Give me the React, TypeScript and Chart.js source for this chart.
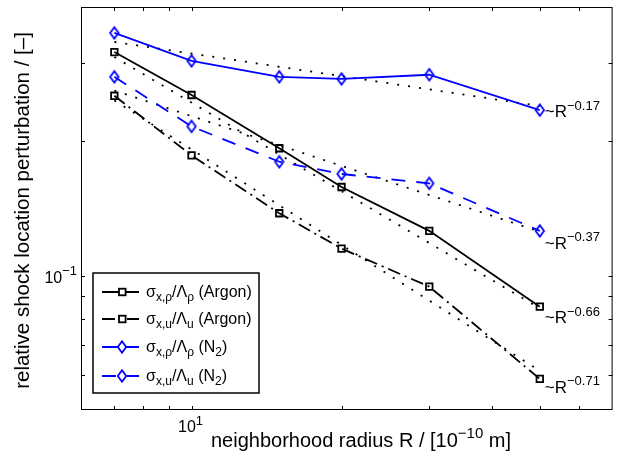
import React, { useEffect, useRef } from 'react';
import { Chart, registerables } from 'chart.js';

Chart.register(...registerables);

// neighborhood radius R, in 1e-10 m
const radius = [7, 10, 15, 20, 30, 50];

// relative shock location perturbation
const argonRho = [0.317, 0.254, 0.193, 0.158, 0.126, 0.0852];
const argonU = [0.253, 0.186, 0.138, 0.115, 0.0945, 0.0587];
const n2Rho = [0.35, 0.303, 0.279, 0.276, 0.282, 0.235];
const n2U = [0.279, 0.216, 0.18, 0.169, 0.161, 0.126];

const fitRadius = [7, 50];
const fitN2Rho = [0.334, 0.24];
const fitN2U = [0.26, 0.1255];
const fitArgonRho = [0.309, 0.0845];
const fitArgonU = [0.247, 0.0612];

const fitExponents = ['\u22120.17', '\u22120.37', '\u22120.66', '\u22120.71'];
const fitLabelAt = [0.2337, 0.1186, 0.0807, 0.0563];

const xTickValues = [7, 8, 9, 10, 20, 30, 40, 50, 60];
const yTickValues = [0.06, 0.07, 0.08, 0.09, 0.1, 0.2, 0.3];

type Run = [string, number]; // text, 0 normal / 1 superscript / -1 subscript

const legendLabels: Run[][] = [
  [['\u03c3', 0], ['x,\u03c1', -1], ['/\u039b', 0], ['\u03c1', -1], [' (Argon)', 0]],
  [['\u03c3', 0], ['x,u', -1], ['/\u039b', 0], ['u', -1], [' (Argon)', 0]],
  [['\u03c3', 0], ['x,\u03c1', -1], ['/\u039b', 0], ['\u03c1', -1], [' (N', 0], ['2', -1], [')', 0]],
  [['\u03c3', 0], ['x,u', -1], ['/\u039b', 0], ['u', -1], [' (N', 0], ['2', -1], [')', 0]],
];

const FONT = '"Liberation Sans", Arial, Helvetica, sans-serif';
const BLUE = '#0000ff';
const DASH_DOT = [13, 5, 2, 5];
const DASHED = [14, 11];
const DOTTED = [2, 9];

function drawRuns(
  ctx: CanvasRenderingContext2D,
  runs: Run[],
  x: number,
  y: number,
  size: number,
  small: number,
  align: 'left' | 'center' | 'right'
) {
  const widths = runs.map(([t, s]) => {
    ctx.font = `${s ? small : size}px ${FONT}`;
    return ctx.measureText(t).width;
  });
  const total = widths.reduce((a, b) => a + b, 0);
  let cx = align === 'left' ? x : align === 'center' ? x - total / 2 : x - total;
  ctx.textAlign = 'left';
  ctx.textBaseline = 'alphabetic';
  runs.forEach(([t, s], i) => {
    ctx.font = `${s ? small : size}px ${FONT}`;
    const dy = s === 1 ? -size * 0.45 : s === -1 ? size * 0.28 : 0;
    ctx.fillText(t, cx, y + dy);
    cx += widths[i];
  });
}

function makeDiamond(): HTMLCanvasElement {
  const c = document.createElement('canvas');
  c.width = 12;
  c.height = 16;
  const g = c.getContext('2d')!;
  g.strokeStyle = BLUE;
  g.lineWidth = 1.8;
  g.beginPath();
  g.moveTo(6, 2.2);
  g.lineTo(10.2, 8);
  g.lineTo(6, 13.8);
  g.lineTo(1.8, 8);
  g.closePath();
  g.stroke();
  return c;
}

const App: React.FC = () => {
  const canvasRef = useRef<HTMLCanvasElement | null>(null);
  const chartRef = useRef<Chart | null>(null);

  useEffect(() => {
    if (!canvasRef.current) return;
    const ctx = canvasRef.current.getContext('2d');
    if (!ctx) return;
    if (chartRef.current) chartRef.current.destroy();

    const diamond = makeDiamond();
    const pts = (ys: number[], xs: number[] = radius) => xs.map((x, i) => ({ x, y: ys[i] }));

    const mainSeries = [
      { data: argonRho, color: '#000', dash: [] as number[], marker: 'rect' as any },
      { data: argonU, color: '#000', dash: DASH_DOT, marker: 'rect' as any },
      { data: n2Rho, color: BLUE, dash: [] as number[], marker: diamond as any },
      { data: n2U, color: BLUE, dash: DASHED, marker: diamond as any },
    ];
    const fits = [fitN2Rho, fitN2U, fitArgonRho, fitArgonU];

    const frame = {
      id: 'frame',
      afterDraw(chart: Chart) {
        const c = chart.ctx;
        const { left, right, top, bottom } = chart.chartArea;
        const xs = chart.scales.x;
        const ys = chart.scales.y;
        c.save();
        c.strokeStyle = '#000';
        c.fillStyle = '#000';
        c.lineWidth = 1;
        c.setLineDash([]);
        c.strokeRect(left + 0.5, top + 0.5, right - left - 1, bottom - top - 1);
        c.beginPath();
        xTickValues.forEach((v) => {
          const px = Math.round(xs.getPixelForValue(v)) + 0.5;
          c.moveTo(px, bottom);
          c.lineTo(px, bottom - 4);
          c.moveTo(px, top);
          c.lineTo(px, top + 4);
        });
        yTickValues.forEach((v) => {
          const py = Math.round(ys.getPixelForValue(v)) + 0.5;
          c.moveTo(left, py);
          c.lineTo(left + 4, py);
          c.moveTo(right, py);
          c.lineTo(right - 4, py);
        });
        c.stroke();

        // tick labels
        drawRuns(c, [['10', 0], ['1', 1]], xs.getPixelForValue(10) - 1, bottom + 22, 16, 13, 'center');
        drawRuns(c, [['10', 0], ['\u22121', 1]], left - 4, ys.getPixelForValue(0.1) + 7, 16, 13, 'right');

        // axis titles
        drawRuns(
          c,
          [['neighborhood radius R / [10', 0], ['\u221210', 1], [' m]', 0]],
          361,
          bottom + 37,
          20,
          15,
          'center'
        );
        c.save();
        c.translate(29, (top + bottom) / 2 + 2);
        c.rotate(-Math.PI / 2);
        drawRuns(c, [['relative shock location perturbation / [\u2013]', 0]], 0, 0, 20.5, 14, 'center');
        c.restore();

        // fit exponents
        const lx = xs.getPixelForValue(50) + 5;
        fitExponents.forEach((e, i) => {
          const py = ys.getPixelForValue(fitLabelAt[i]) + 6;
          drawRuns(c, [['~R', 0], [e, 1]], lx, py, 17, 13, 'left');
        });

        // legend
        const bx = 93;
        const by = 273;
        c.fillStyle = '#fff';
        c.fillRect(bx, by, 166, 120);
        c.strokeStyle = '#000';
        c.lineWidth = 1.5;
        c.strokeRect(bx, by, 166, 120);
        const rowY = [292, 319, 347, 376];
        mainSeries.forEach((s, i) => {
          const y = rowY[i];
          c.strokeStyle = s.color;
          c.lineWidth = 1.8;
          c.setLineDash(s.dash);
          c.beginPath();
          c.moveTo(102, y);
          c.lineTo(139, y);
          c.stroke();
          c.setLineDash([]);
          if (s.marker === 'rect') {
            c.fillStyle = '#fff';
            c.fillRect(119, y - 3.3, 6.6, 6.6);
            c.strokeStyle = '#000';
            c.strokeRect(119, y - 3.3, 6.6, 6.6);
          } else {
            c.fillStyle = '#fff';
            c.beginPath();
            c.moveTo(122, y - 5.5);
            c.lineTo(126, y);
            c.lineTo(122, y + 5.5);
            c.lineTo(118, y);
            c.closePath();
            c.fill();
            c.drawImage(diamond, 122 - 6, y - 8);
          }
          c.fillStyle = '#000';
          drawRuns(c, legendLabels[i], 146, y + 5, 16, 12, 'left');
        });
        c.restore();
      },
    };

    chartRef.current = new Chart(ctx, {
      type: 'line',
      data: {
        datasets: [
          ...mainSeries.map((s) => ({
            data: pts(s.data),
            borderColor: s.color,
            borderWidth: 1.8,
            borderDash: s.dash,
            pointStyle: s.marker,
            pointRadius: 4.6,
            pointBorderWidth: 1.8,
            pointBorderColor: s.color,
            pointBackgroundColor: 'rgba(0,0,0,0)',
            tension: 0,
            fill: false,
          })),
          ...fits.map((f) => ({
            data: pts(f, fitRadius),
            borderColor: '#000',
            borderWidth: 1.8,
            borderDash: DOTTED,
            pointRadius: 0,
            tension: 0,
            fill: false,
          })),
        ],
      },
      options: {
        animation: false,
        responsive: false,
        devicePixelRatio: 1,
        layout: { padding: { left: 81, right: 3, top: 7, bottom: 53 } },
        scales: {
          x: { type: 'logarithmic', min: 6, max: 70, display: false },
          y: { type: 'logarithmic', min: 0.05, max: 0.4, display: false },
        },
        plugins: {
          legend: { display: false },
          tooltip: { enabled: false },
        },
      },
      plugins: [frame],
    });

    return () => {
      if (chartRef.current) {
        chartRef.current.destroy();
        chartRef.current = null;
      }
    };
  }, []);

  return (
    <div style={{ position: 'fixed', left: 0, top: 0, width: 619, height: 463, background: '#fff' }}>
      <canvas ref={canvasRef} width={619} height={463} style={{ width: 619, height: 463 }}></canvas>
    </div>
  );
};

export default App;
